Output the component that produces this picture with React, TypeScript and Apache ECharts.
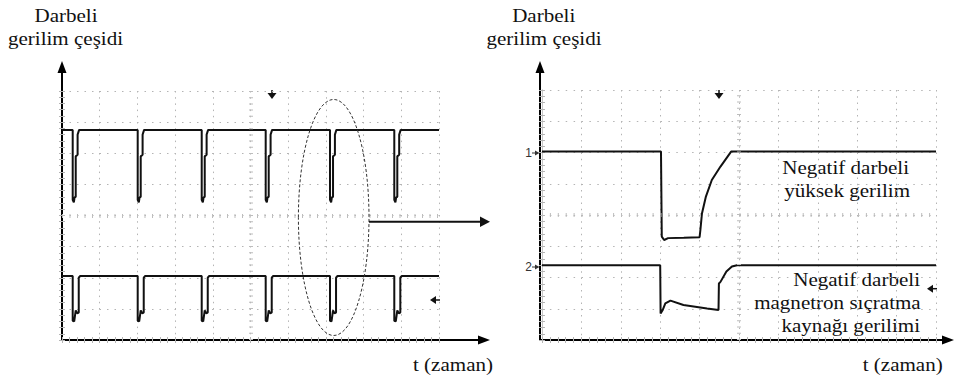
import React, { useEffect, useRef } from "react";
import * as echarts from "echarts";

// ---- data (oscilloscope divisions: x 0..10, y 0..8) ----
const xDivisions = [0, 10];
const yDivisions = [0, 8];

// Left panel: pulse trains
const leftPulseStarts = [0.284, 2.008, 3.706, 5.403, 7.109, 8.814];
const leftTopBaseline = 6.75;
const leftBottomBaseline = 2.06;
// [dx from pulse start, level]
const leftTopPulseShape = [
  [0, 4.5], [0.03, 4.42], [0.05, 4.58], [0.08, 4.6], [0.08, 5.9],
  [0.13, 5.95], [0.13, 6.6], [0.17, 6.75],
];
const leftBottomPulseShape = [
  [0, 0.62], [0.04, 0.6], [0.08, 0.95], [0.12, 0.86], [0.16, 0.88],
  [0.16, 2.0], [0.2, 2.06],
];

// Right panel: zoomed single pulse
const rightTopTrace = [
  [0, 6.03], [3.02, 6.03], [3.04, 3.31], [3.1, 3.2], [3.2, 3.26], [3.6, 3.27],
  [4.0, 3.29], [4.02, 3.52], [4.06, 4.05], [4.16, 4.59], [4.31, 5.12],
  [4.53, 5.55], [4.71, 5.87], [4.8, 6.03], [10, 6.03],
];
const rightBottomTrace = [
  [0, 2.39], [3.0, 2.39], [3.01, 0.85], [3.06, 0.95], [3.13, 1.17],
  [3.26, 1.26], [3.59, 1.12], [4.19, 1.01], [4.48, 0.96], [4.49, 1.81],
  [4.53, 1.86], [4.68, 2.19], [4.82, 2.35], [4.95, 2.39], [10, 2.39],
];

const yAxisTitle = ["Darbeli", "gerilim çeşidi"];
const xAxisTitle = "t (zaman)";
const topTraceNote = ["Negatif darbeli", "yüksek gerilim"];
const bottomTraceNote = ["Negatif darbeli", "magnetron sıçratma", "kaynağı gerilimi"];
const channelLabels = ["1", "2"];

function buildPulseTrain(starts: number[], baseline: number, shape: number[][]) {
  const pts: number[][] = [[xDivisions[0], baseline]];
  for (const s of starts) {
    pts.push([s, baseline]);
    for (const [dx, y] of shape) pts.push([s + dx, y]);
  }
  pts.push([xDivisions[1], baseline]);
  return pts;
}

const SERIF = "Liberation Serif";
const GRID_C = "#b4b4b4";

function plotAxes(grid: number, xDot: number[], yDot: number[]) {
  const tickCommon = {
    axisTick: { show: true, inside: true, length: 3, lineStyle: { color: GRID_C } },
    minorTick: { show: true, splitNumber: 5, length: 3, lineStyle: { color: GRID_C } },
    axisLabel: { show: false },
  };
  const xs = [
    {
      gridIndex: grid, type: "value", min: xDivisions[0], max: xDivisions[1], interval: 1,
      position: "bottom",
      axisLine: { show: true, lineStyle: { color: "#c8c8c8", width: 1 } },
      ...tickCommon,
      splitLine: { show: true, lineStyle: { color: GRID_C, width: 1, type: xDot } },
    },
    {
      gridIndex: grid, type: "value", min: xDivisions[0], max: xDivisions[1], interval: 1,
      position: "top",
      axisLine: { show: true, lineStyle: { color: "#c8c8c8", width: 1 } },
      ...tickCommon,
      splitLine: { show: false },
    },
  ];
  const ys = [
    {
      gridIndex: grid, type: "value", min: yDivisions[0], max: yDivisions[1], interval: 1,
      position: "left",
      axisLine: { show: true, lineStyle: { color: "#c8c8c8", width: 1 } },
      ...tickCommon,
      splitLine: { show: true, lineStyle: { color: GRID_C, width: 1, type: yDot } },
    },
    {
      gridIndex: grid, type: "value", min: yDivisions[0], max: yDivisions[1], interval: 1,
      position: "right",
      axisLine: { show: true, lineStyle: { color: "#c8c8c8", width: 1 } },
      ...tickCommon,
      splitLine: { show: false },
    },
  ];
  return { xs, ys };
}

function arrowAxes(grid: number) {
  const line = {
    show: true,
    symbol: ["none", "triangle"],
    symbolSize: [9, 12],
    lineStyle: { color: "#000", width: 2 },
  };
  return {
    x: {
      gridIndex: grid, type: "value", min: 0, max: 1, position: "bottom",
      axisLine: line, axisTick: { show: false }, axisLabel: { show: false }, splitLine: { show: false },
    },
    y: {
      gridIndex: grid, type: "value", min: 0, max: 1, position: "left",
      axisLine: line, axisTick: { show: false }, axisLabel: { show: false }, splitLine: { show: false },
    },
  };
}

function txt(text: string, x: number, y: number, align: string, size = 18, scaleX = 1.17) {
  return {
    type: "text",
    x, y, scaleX, silent: true,
    style: {
      text, fontFamily: SERIF, fontSize: size, fill: "#111",
      align, verticalAlign: "middle",
    },
  };
}

function chanLabel(text: string, y: number) {
  return [
    {
      type: "text", x: 532, y, silent: true,
      style: {
        text, fontFamily: "Liberation Sans", fontSize: 12, fill: "#333",
        align: "right", verticalAlign: "middle",
      },
    },
    { type: "line", silent: true, shape: { x1: 532, y1: y, x2: 537, y2: y }, style: { stroke: "#333", lineWidth: 1 } },
    { type: "polygon", silent: true, shape: { points: [[535, y - 2.5], [539.5, y], [535, y + 2.5]] }, style: { fill: "#333" } },
  ];
}

function downMark(x: number, y: number) {
  return [
    { type: "line", silent: true, shape: { x1: x, y1: y - 3, x2: x, y2: y + 1 }, style: { stroke: "#111", lineWidth: 1.5 } },
    { type: "polygon", silent: true, shape: { points: [[x - 4.5, y], [x + 4.5, y], [x, y + 6]] }, style: { fill: "#111" } },
  ];
}

function leftMark(x: number, y: number) {
  return [
    { type: "line", silent: true, shape: { x1: x + 4, y1: y, x2: x + 10, y2: y }, style: { stroke: "#111", lineWidth: 1.5 } },
    { type: "polygon", silent: true, shape: { points: [[x, y], [x + 6, y - 4], [x + 6, y + 4]] }, style: { fill: "#111" } },
  ];
}

export default function App() {
  const ref = useRef<HTMLDivElement>(null);
  useEffect(() => {
    if (!ref.current) return;
    const chart = echarts.init(ref.current, null, { renderer: "svg" });

    const L = plotAxes(0, [1.5, 4.7], [1.5, 6]);
    const R = plotAxes(1, [1.5, 4.75], [1.5, 6.4]);
    const LA = arrowAxes(2);
    const RA = arrowAxes(3);

    const centerLines = (xDash: number[], yDash: number[]) => ({
      silent: true,
      symbol: "none",
      label: { show: false },
      emphasis: { disabled: true },
      lineStyle: { color: "#bdbdbd" },
      data: [
        { yAxis: 4, lineStyle: { color: "#bdbdbd", width: 4, type: xDash } },
        { xAxis: 5, lineStyle: { color: "#bdbdbd", width: 4, type: yDash } },
      ],
    });

    const traceStyle = { color: "#111", width: 2 };

    const option: any = {
      animation: false,
      backgroundColor: "#fff",
      grid: [
        { left: 62, top: 91, width: 377, height: 249 },
        { left: 542, top: 90, width: 394, height: 250 },
        { left: 62, top: 67, width: 422, height: 273 },
        { left: 540, top: 67, width: 408, height: 273 },
      ],
      xAxis: [L.xs[0], L.xs[1], R.xs[0], R.xs[1], LA.x, RA.x],
      yAxis: [L.ys[0], L.ys[1], R.ys[0], R.ys[1], LA.y, RA.y],
      series: [
        {
          type: "line", xAxisIndex: 0, yAxisIndex: 0, showSymbol: false, symbol: "none",
          lineStyle: traceStyle, itemStyle: { color: "#111" },
          data: buildPulseTrain(leftPulseStarts, leftTopBaseline, leftTopPulseShape),
          markLine: centerLines([1, 6.5], [1, 5.2]),
          z: 3,
        },
        {
          type: "line", xAxisIndex: 0, yAxisIndex: 0, showSymbol: false, symbol: "none",
          lineStyle: traceStyle, itemStyle: { color: "#111" },
          data: buildPulseTrain(leftPulseStarts, leftBottomBaseline, leftBottomPulseShape),
          z: 3,
        },
        {
          type: "line", xAxisIndex: 2, yAxisIndex: 2, showSymbol: false, symbol: "none",
          lineStyle: traceStyle, itemStyle: { color: "#111" },
          data: rightTopTrace,
          markLine: centerLines([1, 6.9], [1, 5.25]),
          z: 3,
        },
        {
          type: "line", xAxisIndex: 2, yAxisIndex: 2, showSymbol: false, symbol: "none",
          lineStyle: traceStyle, itemStyle: { color: "#111" },
          data: rightBottomTrace,
          z: 3,
        },
      ],
      graphic: [
        // axis titles
        txt(yAxisTitle[0], 66, 15.7, "center"),
        txt(yAxisTitle[1], 65.5, 39, "center"),
        txt(yAxisTitle[0], 543.7, 15.7, "center"),
        txt(yAxisTitle[1], 544, 39, "center"),
        txt(xAxisTitle, 413, 365, "left"),
        txt(xAxisTitle, 862.7, 365, "left"),
        // annotations
        txt(topTraceNote[0], 909, 168, "right"),
        txt(topTraceNote[1], 910, 190.7, "right"),
        txt(bottomTraceNote[0], 920, 279.7, "right"),
        txt(bottomTraceNote[1], 920.7, 303.3, "right"),
        txt(bottomTraceNote[2], 920, 326.3, "right"),
        // channel markers
        ...chanLabel(channelLabels[0], 153),
        ...chanLabel(channelLabels[1], 267),
        // scope markers
        ...downMark(272, 93),
        ...downMark(719, 93),
        ...leftMark(430, 300),
        ...leftMark(927, 288.7),
        // zoom ellipse and arrow
        {
          type: "ellipse", silent: true,
          shape: { cx: 333.7, cy: 217.5, rx: 35.3, ry: 118 },
          style: { fill: "none", stroke: "#333", lineWidth: 1, lineDash: [3, 2] },
          z: 10,
        },
        {
          type: "line", silent: true,
          shape: { x1: 369, y1: 221.7, x2: 482, y2: 221.7 },
          style: { stroke: "#111", lineWidth: 2 },
          z: 10,
        },
        {
          type: "polygon", silent: true,
          shape: { points: [[480, 216.5], [490, 221.7], [480, 227]] },
          style: { fill: "#111" },
          z: 10,
        },
      ],
    };
    chart.setOption(option);
    return () => chart.dispose();
  }, []);
  return (
    <div
      ref={ref}
      style={{ position: "fixed", left: 0, top: 0, width: 955, height: 378, background: "#fff" }}
    />
  );
}
